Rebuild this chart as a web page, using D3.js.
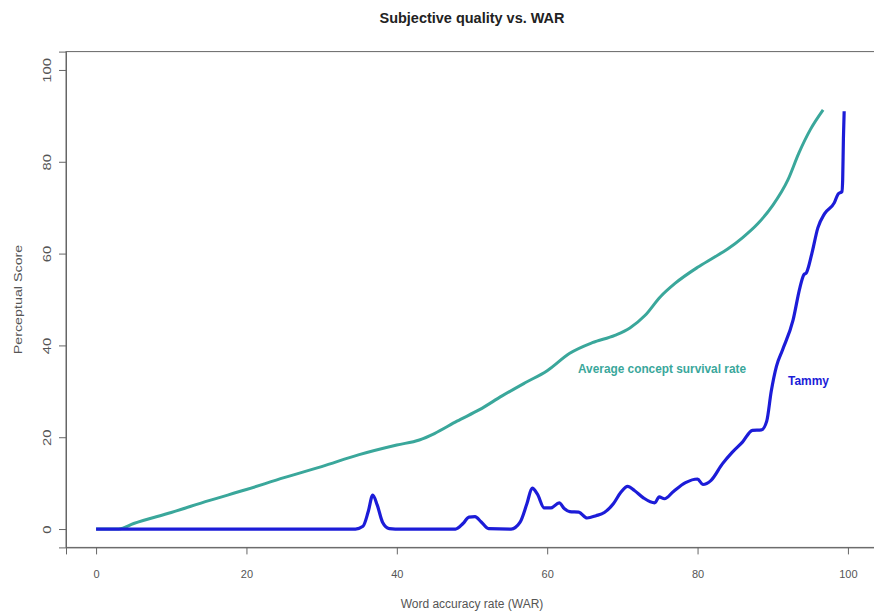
<!DOCTYPE html>
<html>
<head>
<meta charset="utf-8">
<script src="https://cdn.jsdelivr.net/npm/d3@7"></script>
<style>
  body { margin: 0; background: #fff; }
  #chart { width: 874px; height: 612px; }
  text { font-family: "Liberation Sans", Arial, sans-serif; }
</style>
</head>
<body>
<div id="chart"></div>
<script>
// Subjective quality vs. WAR (R base-graphics look)

const xTicks = [0, 20, 40, 60, 80, 100];
const yTicks = [0, 20, 40, 60, 80, 100];

// Average concept survival rate: [WAR, score]
const avgWar = [0, 3, 5, 10, 15, 20, 25, 30, 35, 40, 43, 45, 48, 51, 54, 57, 60, 63, 66, 69, 71, 73, 75, 77, 80, 82, 84, 86, 88, 90, 92, 93.5, 95, 96.7];
const avgScore = [0, 0, 1.2, 3.6, 6.2, 8.6, 11.2, 13.6, 16.2, 18.3, 19.4, 20.8, 23.5, 26, 29, 31.8, 34.5, 38.3, 40.6, 42.2, 43.8, 46.5, 50.5, 53.5, 57, 59, 61, 63.5, 66.5, 70.5, 76, 82, 87, 91.3];

// Tammy
const tammyWar = [0, 34.5, 35.5, 36.2, 36.8, 37.4, 38.1, 39, 39.8, 47.8, 48.8, 49.6, 50.4, 51.2, 52.2, 55.2, 56.4, 57.3, 58, 58.7, 59.6, 60.5, 61.6, 62.3, 63, 64.2, 65.3, 66.5, 67.6, 68.8, 69.8, 70.7, 71.6, 72.8, 74.3, 74.9, 75.6, 76.8, 78.4, 80, 80.7, 81.8, 83.3, 84.6, 86, 87.3, 88.5, 89.2, 89.8, 90.5, 91.3, 92.7, 93.6, 94.1, 94.5, 95.2, 96, 96.9, 98.2, 98.7, 99.2, 99.3, 99.4, 99.5];
const tammyScore = [0, 0, 0.6, 3.8, 7.4, 5.2, 1.5, 0.1, 0, 0, 1.2, 2.6, 2.7, 1.6, 0.1, 0, 1.5, 5.5, 8.9, 7.6, 4.6, 4.6, 5.7, 4.4, 3.8, 3.7, 2.4, 2.9, 3.6, 5.5, 8, 9.3, 8.4, 6.8, 5.7, 7.0, 6.6, 8.2, 10.1, 10.9, 9.7, 10.6, 14.2, 16.7, 19, 21.5, 21.6, 23.5, 30, 35.5, 39, 45.5, 52.5, 55.3, 55.9, 60, 65.6, 68.7, 71.1, 73, 73.5, 76, 85, 91];

function renderChart(containerId) {
  const container = d3.select(`#${containerId}`);
  container.selectAll("*").remove();

  const width = 874, height = 612;
  const svg = container.append("svg")
    .attr("width", width)
    .attr("height", height);

  // R pads the range by 4% on each side
  const x = d3.scaleLinear().domain([-4, 104]).range([66, 878]);
  const y = d3.scaleLinear().domain([-4, 104]).range([547.4, 51.6]);

  const axisColor = "#666";
  const teal = "#3aa79b";
  const blue = "#1c1cd8";

  // plot box
  svg.append("rect")
    .attr("x", x(-4)).attr("y", y(104))
    .attr("width", x(104) - x(-4))
    .attr("height", y(-4) - y(104))
    .attr("fill", "none")
    .attr("stroke", axisColor)
    .attr("stroke-width", 1);

  // x axis
  const gx = svg.append("g")
    .attr("transform", `translate(0,${y(-4)})`)
    .call(d3.axisBottom(x).tickValues(xTicks).tickSize(7).tickPadding(16).tickFormat(d3.format("d")));
  gx.select(".domain").attr("stroke", axisColor);
  gx.selectAll(".tick line").attr("stroke", axisColor);
  gx.selectAll("text").attr("fill", "#555").style("font-size", "11px");

  // y axis, labels parallel to the axis (stretched a bit, like the source image)
  const gy = svg.append("g")
    .attr("transform", `translate(${x(-4)},0)`)
    .call(d3.axisLeft(y).tickValues(yTicks).tickSize(7).tickFormat(d3.format("d")));
  gy.select(".domain").attr("stroke", axisColor);
  gy.selectAll(".tick line").attr("stroke", axisColor);
  gy.selectAll("text")
    .attr("fill", "#555")
    .style("font-size", "11px")
    .attr("x", 0).attr("dy", 0)
    .attr("text-anchor", "middle")
    .attr("transform", "translate(-15,0) rotate(-90) scale(1.35,1)");

  const line = d3.line()
    .x(d => x(d[0]))
    .y(d => y(d[1]))
    .curve(d3.curveMonotoneX);

  const avgData = avgWar.map((w, i) => [w, avgScore[i]]);
  const tammyData = tammyWar.map((w, i) => [w, tammyScore[i]]);

  svg.append("path")
    .datum(avgData)
    .attr("d", line)
    .attr("fill", "none")
    .attr("stroke", teal)
    .attr("stroke-width", 3)
    .attr("stroke-linejoin", "round");

  svg.append("path")
    .datum(tammyData)
    .attr("d", line)
    .attr("fill", "none")
    .attr("stroke", blue)
    .attr("stroke-width", 3.2)
    .attr("stroke-linejoin", "round");

  // curve labels
  svg.append("text")
    .attr("x", 578).attr("y", 373)
    .attr("fill", teal)
    .style("font-size", "12px")
    .style("font-weight", "bold")
    .attr("textLength", 168)
    .attr("lengthAdjust", "spacingAndGlyphs")
    .text("Average concept survival rate");

  svg.append("text")
    .attr("x", 788).attr("y", 385)
    .attr("fill", blue)
    .style("font-size", "12px")
    .style("font-weight", "bold")
    .attr("textLength", 41)
    .attr("lengthAdjust", "spacingAndGlyphs")
    .text("Tammy");

  // titles
  svg.append("text")
    .attr("x", 472).attr("y", 23)
    .attr("text-anchor", "middle")
    .attr("fill", "#222")
    .style("font-size", "14px")
    .style("font-weight", "bold")
    .attr("textLength", 185)
    .attr("lengthAdjust", "spacingAndGlyphs")
    .text("Subjective quality vs. WAR");

  svg.append("text")
    .attr("x", 472).attr("y", 608)
    .attr("text-anchor", "middle")
    .attr("fill", "#555")
    .style("font-size", "12px")
    .text("Word accuracy rate (WAR)");

  svg.append("text")
    .attr("transform", `translate(22,${y(50)}) rotate(-90) scale(1.3,1)`)
    .attr("text-anchor", "middle")
    .attr("fill", "#555")
    .style("font-size", "11px")
    .text("Perceptual Score");
}

document.addEventListener("DOMContentLoaded", () => renderChart("chart"));
</script>
</body>
</html>
